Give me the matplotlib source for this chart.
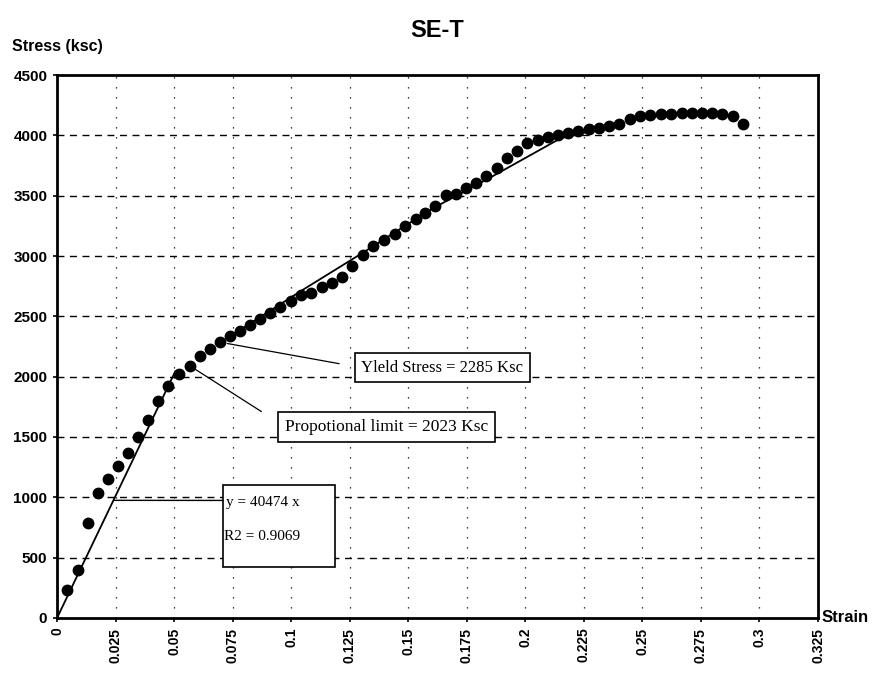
import matplotlib
matplotlib.use("Agg")
import matplotlib.pyplot as plt
import matplotlib.patches as mpatches
import numpy as np

# stress-strain test SE-T
strain = [0.0041, 0.0090, 0.0131, 0.0174, 0.0217, 0.0261, 0.0305, 0.0347, 0.0389, 0.0431,
          0.0475, 0.0520, 0.0567, 0.0610, 0.0655, 0.0698, 0.0739, 0.0783, 0.0826, 0.0867,
          0.0911, 0.0954, 0.0998, 0.1042, 0.1086, 0.1131, 0.1175, 0.1219, 0.1261, 0.1306,
          0.1351, 0.1397, 0.1443, 0.1488, 0.1532, 0.1572, 0.1615, 0.1660, 0.1703, 0.1748,
          0.1791, 0.1834, 0.1880, 0.1922, 0.1965, 0.2009, 0.2053, 0.2096, 0.2141, 0.2184,
          0.2227, 0.2270, 0.2314, 0.2357, 0.2398, 0.2448, 0.2490, 0.2533, 0.2579, 0.2623,
          0.2667, 0.2711, 0.2755, 0.2797, 0.2841, 0.2885, 0.2929]
stress = [235, 400, 790, 1035, 1150, 1260, 1370, 1500, 1645, 1800,
          1925, 2023, 2090, 2170, 2230, 2285, 2335, 2380, 2430, 2480,
          2525, 2580, 2625, 2675, 2695, 2745, 2780, 2825, 2920, 3005,
          3085, 3135, 3185, 3250, 3305, 3360, 3415, 3505, 3510, 3565,
          3605, 3660, 3730, 3810, 3870, 3935, 3965, 3985, 4005, 4020,
          4035, 4055, 4065, 4075, 4095, 4135, 4160, 4170, 4175, 4180,
          4185, 4185, 4188, 4182, 4177, 4162, 4090]

# smoothed line running under the plastic part
smooth_x = [0.0739, 0.105, 0.130, 0.160, 0.185, 0.215, 0.240]
smooth_y = [2335, 2720, 3020, 3390, 3650, 3975, 4090]

slope = 40474
r2 = 0.9069
fit_x = [0, 0.0505]
prop_limit = 2023
yield_stress = 2285

xticks = [0, 0.025, 0.05, 0.075, 0.1, 0.125, 0.15, 0.175, 0.2, 0.225, 0.25, 0.275, 0.3, 0.325]
xlabels = ["0", "0.025", "0.05", "0.075", "0.1", "0.125", "0.15", "0.175", "0.2",
           "0.225", "0.25", "0.275", "0.3", "0.325"]
yticks = [0, 500, 1000, 1500, 2000, 2500, 3000, 3500, 4000, 4500]

plt.rcParams['font.family'] = ['Liberation Sans', 'DejaVu Sans']

fig = plt.figure(figsize=(8.72, 6.74), dpi=100)
ax = fig.add_axes([0.0654, 0.0831, 0.8727, 0.8056])

ax.set_xlim(0, 0.325)
ax.set_ylim(0, 4500)

for yv in yticks[1:-1]:
    ax.axhline(yv, color='black', lw=1.0, ls=(0, (5, 4)), zorder=1)
for xv in xticks[1:-1]:
    ax.axvline(xv, color='black', lw=0.9, ls=(0, (1, 7)), zorder=1)

ax.plot(fit_x, [slope * v for v in fit_x], color='black', lw=1.3, zorder=2)
ax.plot(smooth_x, smooth_y, color='black', lw=1.3, zorder=2)
ax.plot(strain, stress, 'o', color='black', markersize=7.5, zorder=3)

for s in ax.spines.values():
    s.set_linewidth(2)

ax.set_xticks(xticks)
ax.set_xticklabels(xlabels, rotation=90, fontweight='bold', fontsize=10)
ax.set_yticks(yticks)
ax.set_yticklabels([str(v) for v in yticks], fontweight='bold', fontsize=11)
ax.tick_params(direction='out', length=3, width=1.2, pad=4)

fig.text(0.5017, 0.955, "SE-T", ha='center', va='center', fontsize=17, fontweight='bold')
fig.text(0.014, 0.931, "Stress (ksc)", ha='left', va='center', fontsize=11.5, fontweight='bold')
ax.text(1.005, 0.0, "Strain", transform=ax.transAxes, ha='left', va='center',
        fontsize=12, fontweight='bold')

box = dict(boxstyle='square,pad=0.4', fc='white', ec='black', lw=1.2)
serif = ['Liberation Serif', 'DejaVu Serif']

iy = stress.index(yield_stress)
ax.annotate("Yleld Stress = " + str(yield_stress) + " Ksc",
            xy=(strain[iy], stress[iy]), xytext=(0.400, 0.461), textcoords='axes fraction',
            ha='left', va='center', fontsize=12, family=serif, bbox=box, zorder=5,
            arrowprops=dict(arrowstyle='-', lw=0.9, color='black', relpos=(0, 0.5),
                            shrinkA=11, shrinkB=5))

ip = stress.index(prop_limit)
ax.annotate("Propotional limit = " + str(prop_limit) + " Ksc",
            xy=(strain[ip + 1], stress[ip + 1]), xytext=(0.300, 0.352), textcoords='axes fraction',
            ha='left', va='center', fontsize=12.5, family=serif, bbox=box, zorder=5,
            arrowprops=dict(arrowstyle='-', lw=0.9, color='black', relpos=(0, 0.5),
                            shrinkA=14, shrinkB=5))

# equation box
ax.add_patch(mpatches.Rectangle((0.218, 0.094), 0.147, 0.151, transform=ax.transAxes,
                                fc='white', ec='black', lw=1.2, zorder=5))
ax.text(0.222, 0.212, "y = " + str(slope) + " x", transform=ax.transAxes, ha='left',
        va='center', fontsize=11, family=serif, zorder=6)
ax.text(0.219, 0.150, "R2 = " + str(r2), transform=ax.transAxes, ha='left',
        va='center', fontsize=11, family=serif, zorder=6)
ax.annotate("", xy=(975 / slope, 975), xytext=(0.218, 0.2165), textcoords='axes fraction',
            arrowprops=dict(arrowstyle='-', lw=1.0, color='black', shrinkA=0, shrinkB=0),
            zorder=5)

fig.savefig("out.png", dpi=100, facecolor='white')
